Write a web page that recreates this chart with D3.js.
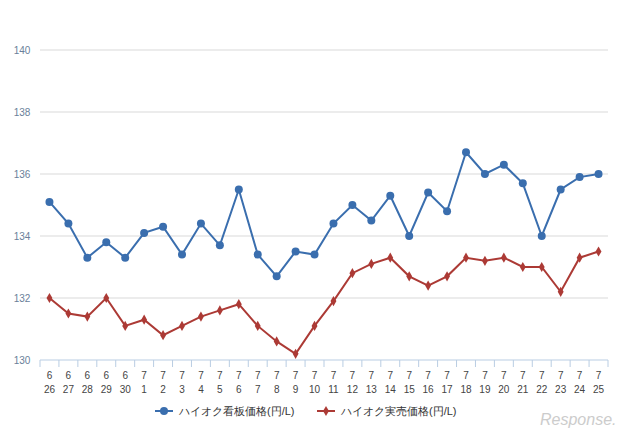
<!DOCTYPE html><html><head><meta charset="utf-8"><script src="https://cdn.jsdelivr.net/npm/d3@7"></script>
<style>body{margin:0;background:#fff}text{font-family:"Liberation Sans",Arial,sans-serif}</style></head><body><svg id="c" width="640" height="439"></svg><script>
const months=[6,6,6,6,6,7,7,7,7,7,7,7,7,7,7,7,7,7,7,7,7,7,7,7,7,7,7,7,7,7];
const days=[26,27,28,29,30,1,2,3,4,5,6,7,8,9,10,11,12,13,14,15,16,17,18,19,20,21,22,23,24,25];
const board=[135.1,134.4,133.3,133.8,133.3,134.1,134.3,133.4,134.4,133.7,135.5,133.4,132.7,133.5,133.4,134.4,135.0,134.5,135.3,134.0,135.4,134.8,136.7,136.0,136.3,135.7,134.0,135.5,135.9,136.0];
const actual=[132.0,131.5,131.4,132.0,131.1,131.3,130.8,131.1,131.4,131.6,131.8,131.1,130.6,130.2,131.1,131.9,132.8,133.1,133.3,132.7,132.4,132.7,133.3,133.2,133.3,133.0,133.0,132.2,133.3,133.5];
const yTicks=[130,132,134,136,138,140];
const names=["ハイオク看板価格(円/L)","ハイオク実売価格(円/L)"];
const svg=d3.select("#c");
const idx=d3.range(days.length);
const x=d3.scaleBand().domain(idx).range([40,608]);
const y=d3.scaleLinear().domain([130,140]).range([360,50]);
svg.selectAll(".g").data(yTicks.slice(1)).join("line").attr("x1",40).attr("x2",608).attr("y1",d=>y(d)).attr("y2",d=>y(d)).attr("stroke","#d9d9d9");
svg.selectAll(".yl").data(yTicks).join("text").attr("x",22).attr("y",d=>y(d)+4).attr("text-anchor","middle").attr("font-size",10).attr("fill","#6a7f9a").text(d=>d);
svg.append("line").attr("x1",40).attr("x2",608).attr("y1",360).attr("y2",360).attr("stroke","#b9cde3");
svg.selectAll(".tk").data(d3.range(days.length+1)).join("line").attr("x1",d=>40+d*x.step()).attr("x2",d=>40+d*x.step()).attr("y1",360).attr("y2",367).attr("stroke","#b9cde3");
const cx=i=>x(i)+x.bandwidth()/2;
svg.selectAll(".m").data(idx).join("text").attr("x",cx).attr("y",379).attr("text-anchor","middle").attr("font-size",10).attr("fill","#444").text(i=>months[i]);
svg.selectAll(".d").data(idx).join("text").attr("x",cx).attr("y",393).attr("text-anchor","middle").attr("font-size",10).attr("fill","#444").text(i=>days[i]);
const line=d3.line().x((d,i)=>cx(i)).y(d=>y(d));
svg.append("path").datum(board).attr("d",line).attr("fill","none").attr("stroke","#3a6eae").attr("stroke-width",2);
svg.append("path").datum(actual).attr("d",line).attr("fill","none").attr("stroke","#ac3a35").attr("stroke-width",2);
svg.selectAll(".b").data(board).join("circle").attr("cx",(d,i)=>cx(i)).attr("cy",d=>y(d)).attr("r",4).attr("fill","#3a6eae");
svg.selectAll(".a").data(actual).join("path").attr("transform",(d,i)=>`translate(${cx(i)},${y(d)})`).attr("d",d3.symbol(d3.symbolDiamond,30)).attr("fill","#ac3a35");
const lg=svg.append("g");
lg.append("line").attr("x1",155).attr("x2",173).attr("y1",411).attr("y2",411).attr("stroke","#3a6eae").attr("stroke-width",2);
lg.append("circle").attr("cx",164).attr("cy",411).attr("r",4).attr("fill","#3a6eae");
lg.append("text").attr("x",179).attr("y",415).attr("font-size",11).attr("fill","#333").text(names[0]);
lg.append("line").attr("x1",317).attr("x2",335).attr("y1",411).attr("y2",411).attr("stroke","#ac3a35").attr("stroke-width",2);
lg.append("path").attr("transform","translate(326,411)").attr("d",d3.symbol(d3.symbolDiamond,30)).attr("fill","#ac3a35");
lg.append("text").attr("x",341).attr("y",415).attr("font-size",11).attr("fill","#333").text(names[1]);
svg.append("text").attr("x",540).attr("y",425).attr("font-size",16).attr("font-style","italic").attr("fill","#ccc").text("Response.");
</script></body></html>
